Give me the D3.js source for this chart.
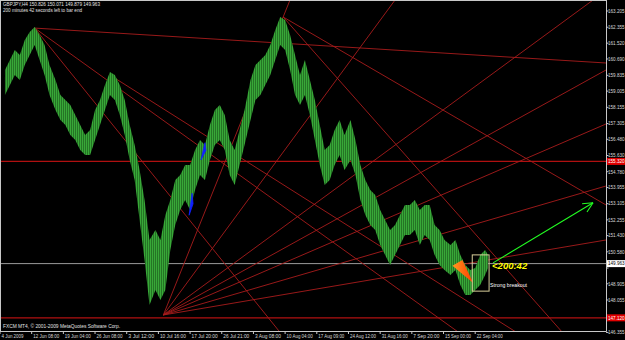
<!DOCTYPE html>
<html><head><meta charset="utf-8">
<script src="https://cdn.jsdelivr.net/npm/d3@7"></script>
<style>html,body{margin:0;padding:0;background:#000;overflow:hidden}svg{display:block}</style>
</head><body>
<svg id="c" width="625" height="340"></svg>
<script>
// ---- data ----
const barIndex = [3,8,13,18,23,28,33,38,43,48,54,59,64,69,74,79,84,89,94,99,104,109,114,119,124,129,134,139,144,149,155,160,165,170,175,180,185,190,195,200,205,210,215,220,225,230,235,240,245,251,256,261,266,271,276,281,286,291,296,301,306,311,316,321,326,331,336,341,346,352,357,362,367,372,377,382,387,392,397,402,407,412,417,422,427,432,437,442,447,453,458,463,468,473,478,483,488,491];
const highs = [160.11,160.64,161.16,160.90,161.69,162.10,162.37,161.95,161.42,160.37,159.59,158.80,158.54,158.28,157.75,157.23,156.71,156.97,158.02,158.54,159.33,160.01,159.85,159.33,158.54,157.23,156.18,154.87,153.30,151.20,151.73,151.20,152.51,153.30,154.35,154.61,155.13,155.13,155.92,156.44,156.18,157.23,158.02,158.28,157.75,156.44,155.92,156.97,158.02,159.59,160.37,160.64,160.90,161.42,162.21,162.89,162.73,161.95,160.90,159.85,160.64,159.59,158.54,157.23,155.92,156.18,156.97,157.49,156.71,157.49,156.44,155.13,154.35,153.82,153.56,152.77,152.25,151.73,151.99,152.51,153.04,153.04,153.30,152.77,153.04,153.04,151.99,151.73,151.20,150.94,151.20,150.42,149.89,149.63,149.73,150.42,150.68,150.42];
const lows = [158.80,159.33,159.85,159.59,160.37,160.90,161.42,160.64,159.85,158.80,158.02,157.49,157.23,156.71,156.44,155.92,155.66,155.66,156.44,157.23,158.02,158.80,158.54,157.75,156.71,155.40,154.35,152.25,150.15,147.79,148.58,148.06,148.58,150.68,151.99,152.77,153.30,152.77,153.82,154.61,154.35,155.40,156.18,156.44,155.92,154.61,154.08,155.13,156.18,157.49,158.54,158.80,159.33,159.85,160.64,161.42,161.16,160.11,158.80,158.28,158.80,157.75,156.44,155.13,154.08,154.35,155.13,155.66,154.87,155.40,154.61,153.30,152.51,151.99,151.73,150.94,150.42,149.89,150.42,150.94,151.46,151.46,151.73,150.94,151.46,151.20,150.42,149.89,149.63,149.37,149.63,148.84,148.32,148.32,148.58,148.84,149.37,149.73];

const priceTicks = ["163.205","162.355","161.520","160.690","159.835","159.005","158.155","157.305","156.480","155.630","154.780","153.955","153.105","152.255","151.430","150.580","149.730","148.905","148.055","147.205","146.355"];
const dateTicks = ["4 Jun 2009","12 Jun 08:00","19 Jun 04:00","26 Jun 08:00","3 Jul 12:00","10 Jul 16:00","17 Jul 20:00","26 Jul 21:00","3 Aug 08:00","10 Aug 04:00","17 Aug 09:00","24 Aug 12:00","31 Aug 16:00","7 Sep 20:00","15 Sep 00:00","22 Sep 04:00"];
const dateTickIdx = [0,32,64,96,128,160,192,224,256,288,320,352,384,416,448,480];

const redLevels = [155.32, 147.12];
const currentPrice = 149.963;

// trendlines: [startIdx, startPrice, endIdx, endPrice]
const trendlines = [
  [163,147.27,284,162.89],
  [163,147.27,397,163.78],
  [163,147.27,597,163.78],
  [163,147.27,610,160.11],
  [163,147.27,610,157.28],
  [163,147.27,610,154.03],
  [163,147.27,610,151.20],
  [33,162.31,610,160.48],
  [33,162.31,279,146.48],
  [33,162.31,458,146.48],
  [109,159.85,516,146.48],
  [284,162.89,564,146.48],
  [284,162.89,610,153.04]
];

// annotations
const blueTriangles = [
  [[189,152.50],[192,153.65],[193,153.10]],
  [[201,155.40],[205,156.30],[206,155.90]]
];
const orangeTriangle = [[455,149.85],[465,150.15],[476,148.95]];
const breakoutBox = [[475,150.42],[492,148.52]];
const arrowLine = [[496,150.00],[597,153.15]];

// ---- drawing ----
const svg = d3.select("#c");
const W = 625, H = 340, plotR = 606, plotB = 331;
const x = d3.scaleLinear().domain([0, 612]).range([2, 2 + 612*0.99]);
const y = d3.scaleLinear().domain([163.782, 146.43]).range([0, 331]);
const FONT = "Liberation Sans, Arial, sans-serif";

svg.append("rect").attr("width",W).attr("height",H).attr("fill","#000");
const defs = svg.append("defs");
defs.append("clipPath").attr("id","plot")
  .append("rect").attr("x",0).attr("y",0).attr("width",plotR).attr("height",plotB);
const pat = defs.append("pattern").attr("id","bars").attr("patternUnits","userSpaceOnUse")
  .attr("width",2).attr("height",4);
pat.append("rect").attr("width",2).attr("height",4).attr("fill","#226e22");
pat.append("rect").attr("width",1.1).attr("height",4).attr("fill","#38a838");

const g = svg.append("g").attr("clip-path","url(#plot)");

// horizontal levels
redLevels.forEach(v=>{
  g.append("line").attr("x1",0).attr("x2",plotR).attr("y1",y(v)).attr("y2",y(v))
   .attr("stroke","#b01010").attr("stroke-width",1.2);
});
g.append("line").attr("x1",0).attr("x2",plotR).attr("y1",y(currentPrice)).attr("y2",y(currentPrice))
 .attr("stroke","#9a9a9a").attr("stroke-width",1);

// trendlines (rays)
trendlines.forEach(t=>{
  const x1=x(t[0]), y1=y(t[1]), x2=x(t[2]), y2=y(t[3]);
  const k = 3;
  g.append("line").attr("x1",x1).attr("y1",y1)
   .attr("x2",x1+(x2-x1)*k).attr("y2",y1+(y2-y1)*k)
   .attr("stroke","#a81c1c").attr("stroke-width",0.9);
});

// price band
const data = barIndex.map((b,i)=>({b, h:highs[i], l:lows[i]}));
g.append("path").datum(data)
 .attr("d", d3.area().x(d=>x(d.b)).y0(d=>y(d.l)).y1(d=>y(d.h)).curve(d3.curveLinear))
 .attr("fill","url(#bars)");

// blue triangles
blueTriangles.forEach(tr=>{
  g.append("polygon").attr("points", tr.map(p=>x(p[0])+","+y(p[1])).join(" "))
   .attr("fill","#1020ff").attr("stroke","#1020ff").attr("stroke-width",0.8);
});
// orange triangle
const og = defs.append("linearGradient").attr("id","og").attr("x1","0").attr("x2","1");
og.append("stop").attr("offset","0").attr("stop-color","#ff9a20");
og.append("stop").attr("offset","1").attr("stop-color","#ff3a00");
g.append("polygon").attr("points", orangeTriangle.map(p=>x(p[0])+","+y(p[1])).join(" "))
 .attr("fill","url(#og)");

// breakout box
g.append("rect").attr("x",x(breakoutBox[0][0])).attr("y",y(breakoutBox[0][1]))
 .attr("width",x(breakoutBox[1][0])-x(breakoutBox[0][0]))
 .attr("height",y(breakoutBox[1][1])-y(breakoutBox[0][1]))
 .attr("fill","none").attr("stroke","#d8cf9a").attr("stroke-width",1);

// arrow
const ax1=x(arrowLine[0][0]), ay1=y(arrowLine[0][1]), ax2=x(arrowLine[1][0]), ay2=y(arrowLine[1][1]);
g.append("line").attr("x1",ax1).attr("y1",ay1).attr("x2",ax2).attr("y2",ay2)
 .attr("stroke","#22ff22").attr("stroke-width",1.1);
const ang = Math.atan2(ay2-ay1, ax2-ax1);
[0.45,-0.45].forEach(da=>{
  g.append("line").attr("x1",ax2).attr("y1",ay2)
   .attr("x2",ax2-11*Math.cos(ang+da)).attr("y2",ay2-11*Math.sin(ang+da))
   .attr("stroke","#22ff22").attr("stroke-width",1.1);
});

// texts in plot
svg.append("text").attr("x",x(495)).attr("y",y(149.66)).text("<200:42")
 .attr("fill","#ffff00").attr("font-family",FONT).attr("font-size",9.5)
 .attr("font-weight","bold").attr("font-style","italic");
svg.append("text").attr("x",x(493)).attr("y",y(148.72)).text("Strong breakout")
 .attr("fill","#ffffff").attr("font-family",FONT).attr("font-size",5.6)
 .attr("textLength",37).attr("lengthAdjust","spacingAndGlyphs");

function txt(xx, yy, s, len, fill, fs){
  const t = svg.append("text").attr("x",xx).attr("y",yy).text(s)
    .attr("fill",fill||"#d8d8d8").attr("font-family",FONT).attr("font-size",fs||5.2);
  if (len) t.attr("textLength",len).attr("lengthAdjust","spacingAndGlyphs");
  return t;
}
txt(3, 6, "GBPJPY,H4  150.826 150.071 149.879 149.963", 97, "#e0e0e0");
txt(3, 12, "200 minutes 42 seconds left to bar end", 79, "#e0e0e0");
txt(3, 328, "FXCM MT4, \u00A9 2001-2009 MetaQuotes Software Corp.", 117, "#e0e0e0");

// frame
svg.append("line").attr("x1",plotR+0.5).attr("x2",plotR+0.5).attr("y1",0).attr("y2",plotB+0.5).attr("stroke","#c8c8c8");
svg.append("line").attr("x1",0).attr("x2",plotR+0.5).attr("y1",plotB+0.5).attr("y2",plotB+0.5).attr("stroke","#c8c8c8");
svg.append("line").attr("x1",0).attr("x2",plotR+0.5).attr("y1",0.5).attr("y2",0.5).attr("stroke","#c8c8c8");
svg.append("line").attr("x1",0.5).attr("x2",0.5).attr("y1",0).attr("y2",plotB+0.5).attr("stroke","#c8c8c8");

// price axis (labels hidden where a level tag covers them)
const tagVals = redLevels.concat([currentPrice]);
priceTicks.forEach(t=>{
  const yy = y(+t);
  svg.append("line").attr("x1",plotR).attr("x2",plotR+2.5).attr("y1",yy).attr("y2",yy).attr("stroke","#c8c8c8");
  const covered = tagVals.some(v=>Math.abs(y(v)-yy) < 5);
  if (!covered) txt(plotR+2, yy+1.8, t, null, "#d8d8d8", 4.6);
});
// level labels
function tag(v, bg, fg, label){
  const yy=y(v);
  svg.append("rect").attr("x",plotR+1).attr("y",yy-3.5).attr("width",W-plotR-1).attr("height",7).attr("fill",bg);
  txt(plotR+2, yy+1.8, label, null, fg, 4.6);
}
tag(redLevels[0], "#e00000", "#ffffff", redLevels[0].toFixed(3));
tag(redLevels[1], "#e00000", "#ffffff", redLevels[1].toFixed(3));
tag(currentPrice, "#ffffff", "#000000", currentPrice.toFixed(3));

// date axis
dateTicks.forEach((t,i)=>{
  const xx = x(dateTickIdx[i]) - 2;
  svg.append("line").attr("x1",xx).attr("x2",xx).attr("y1",plotB).attr("y2",plotB+3).attr("stroke","#c8c8c8");
  txt(xx+1.5, 338, t, t.length > 10 ? 26 : 22);
});
</script>
</body></html>
